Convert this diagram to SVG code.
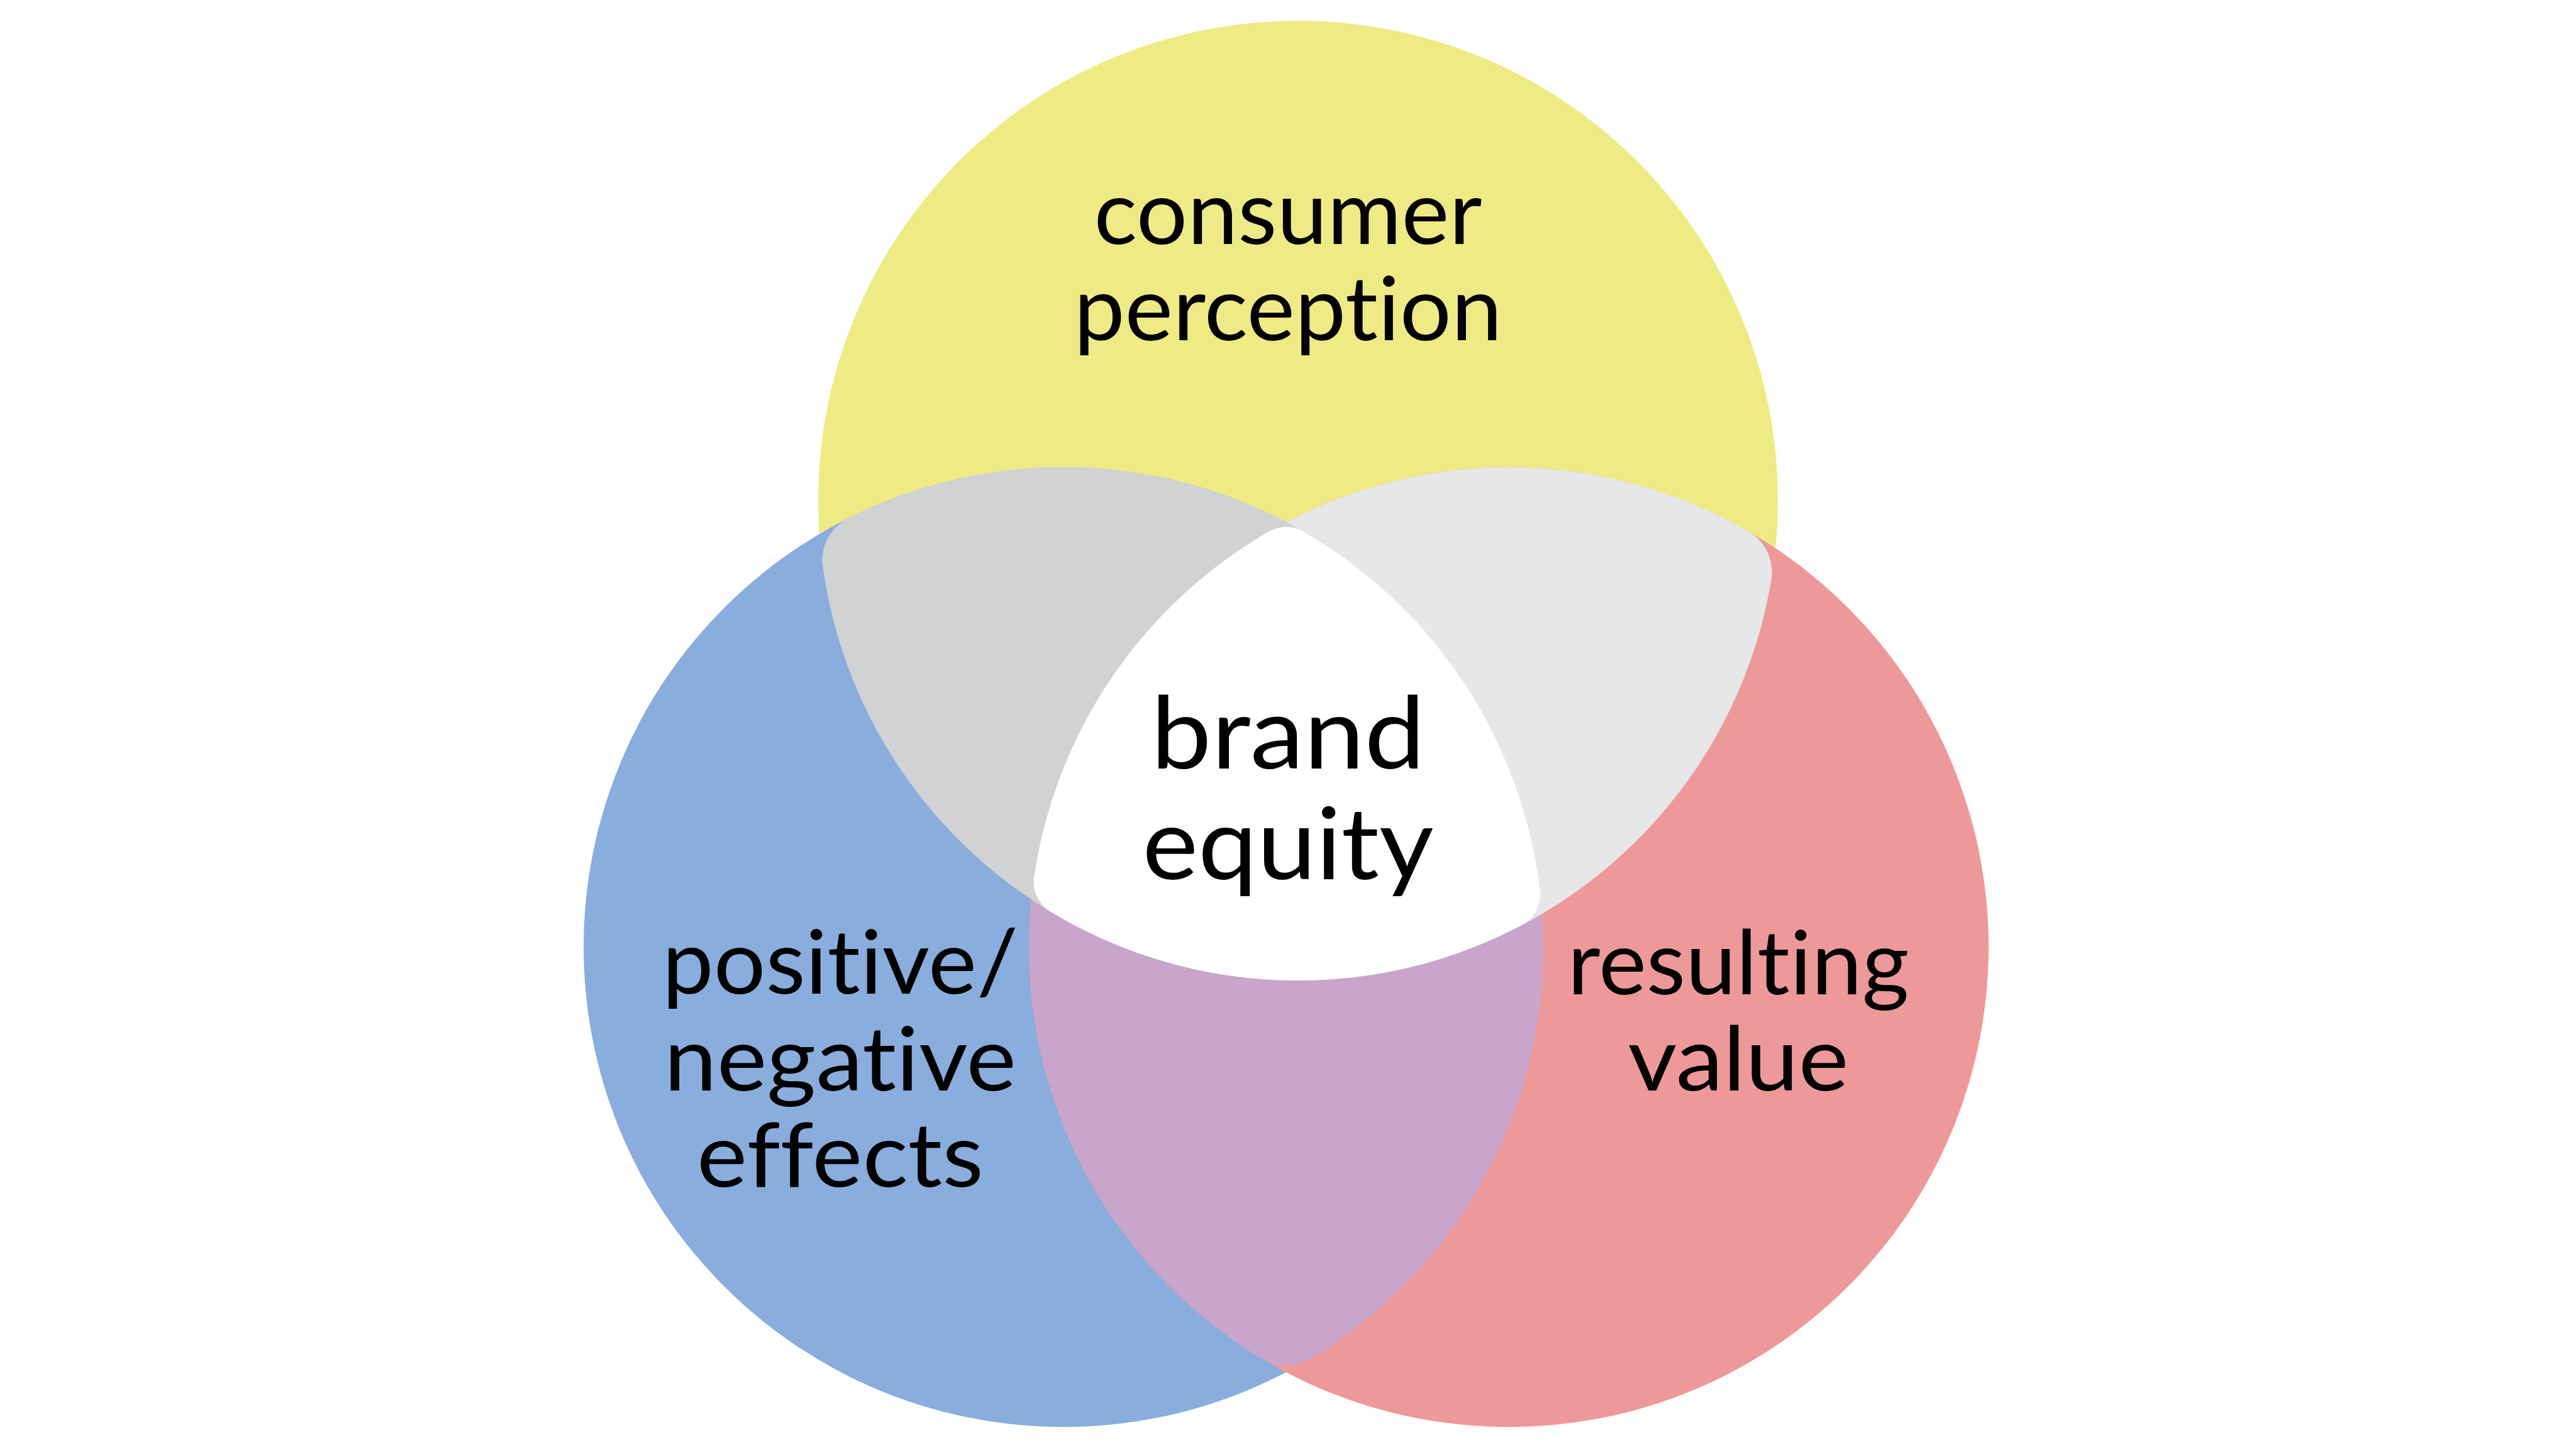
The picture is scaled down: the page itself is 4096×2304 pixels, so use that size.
<svg xmlns="http://www.w3.org/2000/svg" width="4096" height="2304" viewBox="0 0 4096 2304">
<style>
text{font-family:Lato,"Noto Sans","Liberation Sans",sans-serif;fill:#000;text-anchor:middle;font-weight:400;font-variant-ligatures:none;font-feature-settings:"liga" 0,"clig" 0}
.lbl{font-size:142px}
.ctr{font-size:159px}
.rnd{stroke-width:150;stroke-linejoin:round}
.rnd2{stroke-width:110;stroke-linejoin:round}
.y{fill:#EFEB84}
.b{fill:#89ADDC}
.r{fill:#ED999A}
.yb{fill:#D1D2D4;stroke:#D1D2D4}
.yr{fill:#E6E7E8;stroke:#E6E7E8}
.br{fill:#C9A5CC;stroke:#C9A5CC}
.ybr{fill:#FFFFFF;stroke:#FFFFFF}
</style>
<rect width="4096" height="2304" fill="#FFFFFF"/>
<g id="consumer-perception">
<circle class="y" cx="2064" cy="796" r="763"/>
<text class="lbl" x="2048" y="387.6" textLength="617" lengthAdjust="spacingAndGlyphs">consumer</text>
<text class="lbl" x="2048" y="541.2" textLength="681" lengthAdjust="spacingAndGlyphs">perception</text>
</g>
<g id="positive-negative-effects">
<circle class="b" cx="1691" cy="1506" r="763"/>
<text class="lbl" x="1336" y="1579.9" textLength="566" lengthAdjust="spacingAndGlyphs">positive/</text>
<text class="lbl" x="1336" y="1733.5" textLength="560" lengthAdjust="spacingAndGlyphs">negative</text>
<text class="lbl" x="1336" y="1887.1" textLength="456" lengthAdjust="spacingAndGlyphs">effects</text>
</g>
<g id="resulting-value">
<circle class="r" cx="2399" cy="1506" r="763"/>
<text class="lbl" x="2764" y="1580.5" textLength="543" lengthAdjust="spacingAndGlyphs">resulting</text>
<text class="lbl" x="2764" y="1733.5" textLength="351" lengthAdjust="spacingAndGlyphs">value</text>
</g>
<g id="overlap-effects-value">
<path class="br rnd" d="M2045,916.06 A688,688 0 0 1 2045,2095.94 A688,688 0 0 1 2045,916.06 Z"/>
</g>
<g id="overlap-perception-value">
<path class="yr rnd" d="M1720.49,1392.11 A688,688 0 0 1 2742.51,909.89 A688,688 0 0 1 1720.49,1392.11 Z"/>
</g>
<g id="overlap-perception-effects">
<path class="yb rnd" d="M1382.57,890.99 A688,688 0 0 1 2372.43,1411.01 A688,688 0 0 1 1382.57,890.99 Z"/>
</g>
<g id="brand-equity">
<path class="ybr rnd2" d="M2045,892.85 A708,708 0 0 1 2394.1,1422.4 A708,708 0 0 1 1698.6,1402.4 A708,708 0 0 1 2045,892.85 Z"/>
<text class="ctr" x="2048" y="1222.1" textLength="436" lengthAdjust="spacingAndGlyphs">brand</text>
<text class="ctr" x="2048" y="1397.6" textLength="463" lengthAdjust="spacingAndGlyphs">equity</text>
</g>
</svg>
